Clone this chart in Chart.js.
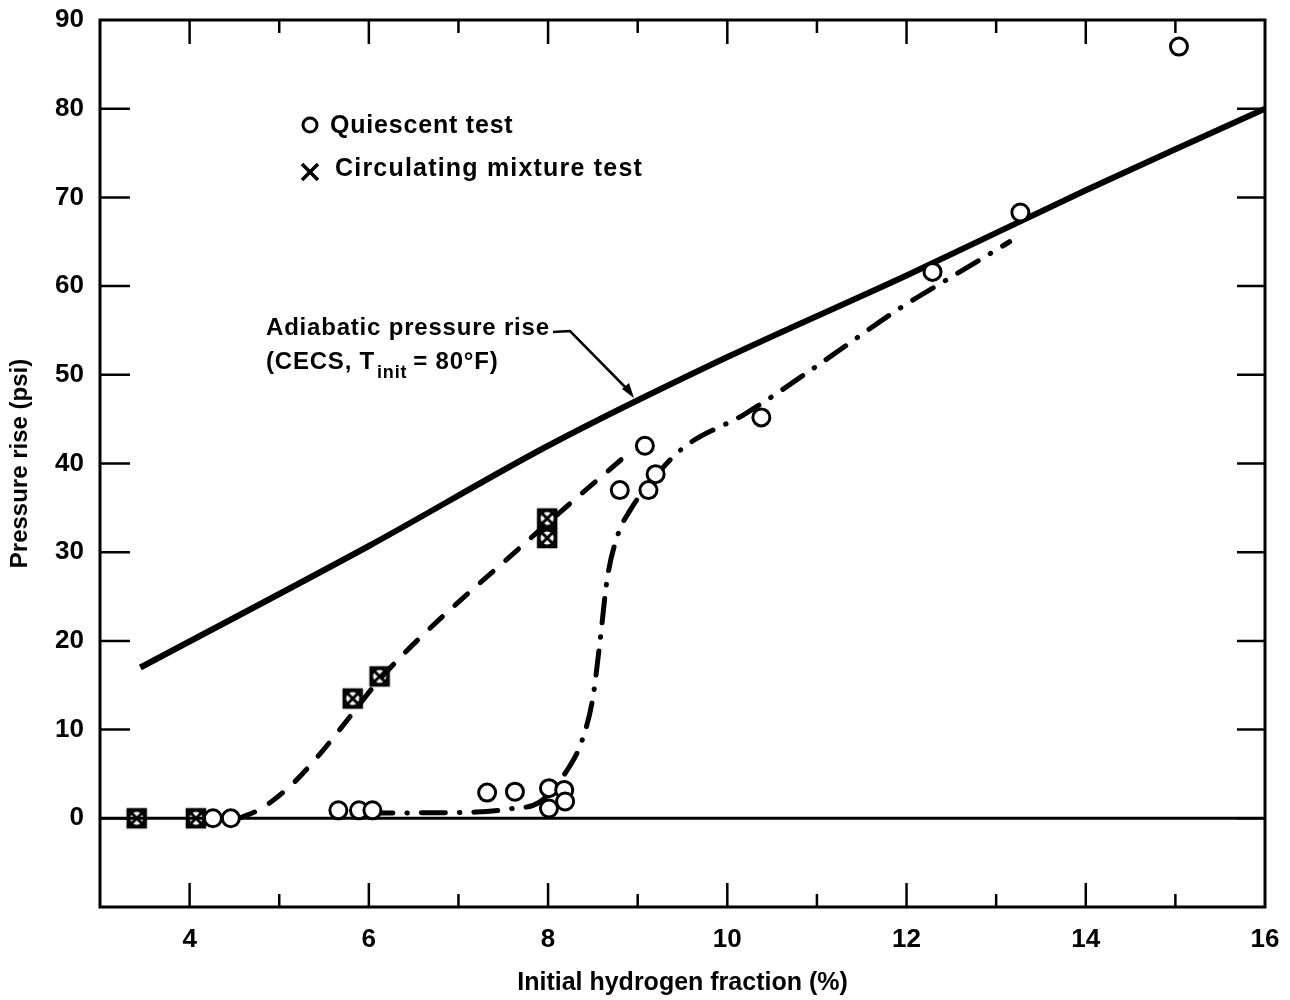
<!DOCTYPE html>
<html>
<head>
<meta charset="utf-8">
<script src="https://cdn.jsdelivr.net/npm/chart.js@4.4.1/dist/chart.umd.min.js"></script>
<style>
html, body { margin: 0; padding: 0; background: #fff; }
</style>
</head>
<body>
<canvas id="mycanvas" width="1290" height="1000"></canvas>
<script>
// quiescent test (open circles)
var quiescentX = [4.26, 4.46, 5.66, 5.89, 6.04, 7.32, 7.63, 8.01, 8.18, 8.01, 8.19, 8.8, 9.08, 9.12, 9.2, 10.38, 12.29, 13.27, 15.04];
var quiescentY = [0, 0, 0.9, 0.9, 0.9, 2.9, 3.0, 3.4, 3.2, 1.1, 1.9, 37, 42, 37, 38.8, 45.2, 61.6, 68.3, 87];

// circulating mixture test
var circX = [3.41, 4.07, 5.82, 6.12, 7.99, 7.99];
var circY = [0, 0, 13.5, 16, 33.8, 31.6];

// adiabatic pressure rise (solid)
var adiabaticX = [3.45, 6, 8, 10, 12, 14, 16];
var adiabaticY = [17, 30.7, 42, 52, 61.2, 70.8, 80];

// dashed curve through circulating points
var dashX = [4.55, 4.8, 5.15, 5.45, 5.8, 6.15, 7.74, 8.88];
var dashY = [0, 1.1, 3.9, 7.2, 11.6, 16.0, 31, 41];

// dash-dot curve through quiescent points
var dotDashX = [6.0, 7.2, 7.6, 7.9, 8.23, 8.38, 8.5, 8.58, 8.66, 8.78, 8.92, 9.12, 9.5, 10.2, 11.0, 11.94, 12.53, 13.15];
var dotDashY = [0.6, 0.7, 1.1, 1.8, 5.7, 8.8, 13.6, 20, 27, 32, 34.8, 37.6, 41.7, 45.6, 51, 57.6, 61.2, 65.0];

var xTickLabels = [4, 6, 8, 10, 12, 14, 16];
var yTickLabels = [0, 10, 20, 30, 40, 50, 60, 70, 80, 90];

function toPoints(xs, ys) {
    var pts = [];
    for (var i in xs) {
        pts.push({ x: xs[i], y: ys[i] });
    }
    return pts;
}

function crossCircle() {
    var c = document.createElement('canvas');
    c.width = 24; c.height = 24;
    var g = c.getContext('2d');
    g.strokeStyle = '#000';
    g.lineWidth = 3;
    g.beginPath(); g.arc(12, 12, 8, 0, 2 * Math.PI); g.stroke();
    g.beginPath(); g.moveTo(4, 4); g.lineTo(20, 20); g.moveTo(20, 4); g.lineTo(4, 20); g.stroke();
    g.lineWidth = 2.5;
    g.strokeRect(3, 3, 18, 18);
    return c;
}

var fontFam = '"Liberation Sans", Arial, Helvetica, sans-serif';

var frame = {
    id: 'frame',
    beforeDatasetsDraw: function (chart) {
        var ctx = chart.ctx, a = chart.chartArea, ys = chart.scales.y;
        var y0 = ys.getPixelForValue(0);
        ctx.save();
        ctx.strokeStyle = '#000';
        ctx.lineWidth = 3;
        ctx.beginPath(); ctx.moveTo(a.left, y0); ctx.lineTo(a.right, y0); ctx.stroke();
        ctx.restore();
    },
    afterDraw: function (chart) {
        var ctx = chart.ctx, a = chart.chartArea;
        var xs = chart.scales.x, ys = chart.scales.y;
        ctx.save();
        ctx.strokeStyle = '#000';
        ctx.fillStyle = '#000';

        // ticks pointing inward
        ctx.lineWidth = 2.5;
        ctx.beginPath();
        for (var v = 4; v <= 15; v++) {
            var px = xs.getPixelForValue(v);
            var len = (v % 2 === 0) ? 24 : 13;
            ctx.moveTo(px, a.bottom); ctx.lineTo(px, a.bottom - len);
            ctx.moveTo(px, a.top); ctx.lineTo(px, a.top + len);
        }
        for (var w = 0; w <= 80; w += 10) {
            var py = ys.getPixelForValue(w);
            ctx.moveTo(a.left, py); ctx.lineTo(a.left + 30, py);
            ctx.moveTo(a.right, py); ctx.lineTo(a.right - 28, py);
        }
        ctx.stroke();

        // frame
        ctx.lineWidth = 3;
        ctx.strokeRect(a.left, a.top, a.right - a.left, a.bottom - a.top);

        // legend
        ctx.lineWidth = 3;
        ctx.beginPath(); ctx.arc(310, 125, 7, 0, 2 * Math.PI); ctx.stroke();
        ctx.lineWidth = 3.5;
        ctx.beginPath();
        ctx.moveTo(302, 164); ctx.lineTo(318, 180);
        ctx.moveTo(318, 164); ctx.lineTo(302, 180);
        ctx.stroke();
        ctx.font = 'bold 25px ' + fontFam;
        ctx.textBaseline = 'middle';
        ctx.textAlign = 'left';
        ctx.letterSpacing = '0.8px';
        ctx.fillText('Quiescent test', 330, 126);
        ctx.letterSpacing = '1.2px';
        ctx.fillText('Circulating mixture test', 335, 169);

        // annotation
        ctx.font = 'bold 24px ' + fontFam;
        ctx.letterSpacing = '0.8px';
        ctx.fillText('Adiabatic pressure rise', 266, 328);
        var x0 = 266;
        var s1 = '(CECS, T';
        ctx.fillText(s1, x0, 362);
        x0 += ctx.measureText(s1).width + 2;
        ctx.font = 'bold 18px ' + fontFam;
        ctx.fillText('init', x0, 373);
        x0 += ctx.measureText('init').width + 6;
        ctx.font = 'bold 24px ' + fontFam;
        ctx.fillText('= 80\u00b0F)', x0, 362);

        ctx.lineWidth = 2.5;
        ctx.beginPath();
        ctx.moveTo(553, 332); ctx.lineTo(570, 331); ctx.lineTo(628, 390);
        ctx.stroke();
        ctx.beginPath();
        ctx.moveTo(634, 398); ctx.lineTo(622, 389); ctx.lineTo(629, 383);
        ctx.closePath(); ctx.fill();
        ctx.restore();
    }
};

var ctx = document.getElementById('mycanvas').getContext('2d');

var chart = new Chart(ctx, {
    type: 'scatter',
    data: {
        datasets: [{
            label: 'Quiescent test',
            data: toPoints(quiescentX, quiescentY),
            pointStyle: 'circle',
            pointRadius: 8.5,
            borderWidth: 3,
            borderColor: '#000',
            backgroundColor: '#fff'
        }, {
            label: 'Circulating mixture test',
            data: toPoints(circX, circY),
            pointStyle: crossCircle(),
            pointRadius: 12
        }, {
            label: 'Adiabatic pressure rise',
            data: toPoints(adiabaticX, adiabaticY),
            showLine: true,
            pointRadius: 0,
            borderColor: '#000',
            borderWidth: 6,
            tension: 0.3
        }, {
            label: 'Circulating fit',
            data: toPoints(dashX, dashY),
            showLine: true,
            pointRadius: 0,
            borderColor: '#000',
            borderWidth: 5,
            borderDash: [17, 17],
            borderCapStyle: 'round',
            cubicInterpolationMode: 'monotone'
        }, {
            label: 'Quiescent fit',
            data: toPoints(dotDashX, dotDashY),
            showLine: true,
            pointRadius: 0,
            borderColor: '#000',
            borderWidth: 5,
            borderDash: [24, 14, 0.5, 14],
            borderCapStyle: 'round',
            cubicInterpolationMode: 'monotone'
        }]
    },
    options: {
        responsive: false,
        animation: false,
        layout: { padding: { top: 20, right: 25, left: 0, bottom: 0 } },
        plugins: {
            legend: { display: false },
            tooltip: { enabled: false }
        },
        scales: {
            x: {
                type: 'linear',
                min: 3,
                max: 16,
                border: { display: false },
                grid: { display: false, drawTicks: false },
                ticks: {
                    stepSize: 1,
                    padding: 17,
                    color: '#000',
                    font: { family: fontFam, size: 26, weight: 'bold' },
                    maxRotation: 0,
                    autoSkip: false,
                    callback: function (v) {
                        return xTickLabels.indexOf(v) >= 0 ? String(v) : '';
                    }
                },
                title: {
                    display: true,
                    text: 'Initial hydrogen fraction (%)',
                    color: '#000',
                    font: { family: fontFam, size: 25, weight: 'bold' },
                    padding: { top: 0, bottom: 2 }
                },
                afterFit: function (s) {
                    s.height = 93;
                    s.paddingLeft = 0; s.paddingRight = 0;
                }
            },
            y: {
                type: 'linear',
                min: -10,
                max: 90,
                border: { display: false },
                grid: { display: false, drawTicks: false },
                ticks: {
                    stepSize: 10,
                    padding: 16,
                    color: '#000',
                    font: { family: fontFam, size: 26, weight: 'bold' },
                    callback: function (v) {
                        return yTickLabels.indexOf(v) >= 0 ? String(v) : '';
                    }
                },
                title: {
                    display: true,
                    text: 'Pressure rise (psi)',
                    color: '#000',
                    font: { family: fontFam, size: 24, weight: 'bold' },
                    padding: { top: 6, bottom: 0 }
                },
                afterFit: function (s) {
                    s.width = 100;
                    s.paddingTop = 0; s.paddingBottom = 0;
                }
            }
        }
    },
    plugins: [frame]
});
</script>
</body>
</html>
